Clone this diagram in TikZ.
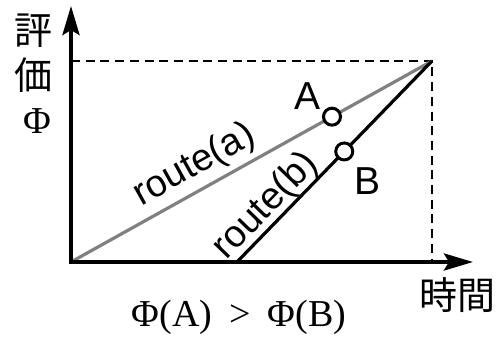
\documentclass[tikz,border=0pt]{standalone}
\usepackage{fontspec}
\setmainfont{Liberation Serif}
\setsansfont{Liberation Sans}
\newfontfamily\jpfont{Noto Sans CJK JP}
\usetikzlibrary{arrows.meta,calc}

\begin{document}
\begin{tikzpicture}[x=1pt, y=-1pt, >={Stealth[length=29pt, width=17pt, inset=5pt]},
	axis/.style={line width=4pt, ->},
	guide/.style={line width=2.8pt, dash pattern=on 9pt off 5.7pt},
	route/.style={line width=3.2pt},
	pt/.style={circle, draw, fill=white, line width=3pt, minimum size=17pt, inner sep=0pt},
	lab/.style={font=\fontsize{38}{42}\selectfont\sffamily, inner sep=1pt},
	jp/.style={font=\fontsize{38}{42}\selectfont\jpfont, inner sep=0pt},
	rm/.style={font=\fontsize{38}{42}\selectfont\rmfamily, inner sep=0pt}]
	\useasboundingbox (0,0) rectangle (496,342);
	\coordinate (O) at (71,262);
	\coordinate (P) at (432,61);
	\coordinate (S) at (237,262);
	\coordinate (Ytop) at (71,6);
	\coordinate (Xend) at (473,262);
	\coordinate (Pl) at (71,61);
	\coordinate (Pb) at (432,262);
	% guides to the end point
	\draw[guide] (Pl) -- (P) -- (Pb);
	% the two routes
	\draw[route, gray] (O) -- node[pos=0.375, sloped, above, lab, text=black, yshift=4pt] {route(a)} (P);
	\draw[route] (S) -- node[pos=0.215, sloped, above, lab, yshift=-2pt] {route(b)} (P);
	% axes
	\draw[axis] (71,264) -- (Ytop);
	\draw[axis] (69,262) -- (Xend);
	\node[pt] (A) at ($(O)!0.723!(P)$) {};
	\node[pt] (B) at ($(S)!0.55!(P)$) {};
	\node[lab] (Alab) at (308,96) {\fontsize{39}{42}\selectfont A};
	\node[lab] (Blab) at (368,181) {\fontsize{39}{42}\selectfont B};
	\node[jp] (hyo) at (33,31) {評};
	\node[jp] (ka) at (33,75) {価};
	\node[rm] (phi) at (37,121) {Φ};
	\node[jp] (jikan) at (457,295) {時間};
	\node[rm] (rel) at (239,317) {Φ(A)\hspace{0.45em}>\hspace{0.45em}Φ(B)};
\end{tikzpicture}
\end{document}
